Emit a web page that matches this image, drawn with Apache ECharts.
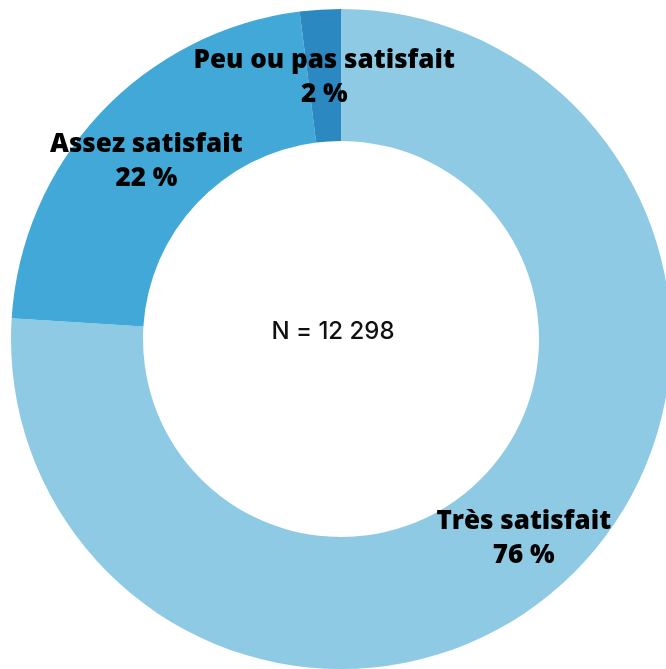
<!DOCTYPE html>
<html>
<head>
<meta charset="utf-8">
<script src="https://cdn.jsdelivr.net/npm/echarts@6/dist/echarts.min.js"></script>
<style>
  html, body { margin: 0; padding: 0; background: #fff; }
  #chart { width: 666px; height: 669px; }
</style>
</head>
<body>
<div id="chart"></div>
<script>
  // satisfaction categories and shares (%)
  const categories = ['Très satisfait', 'Assez satisfait', 'Peu ou pas satisfait']
  const values = [76, 22, 2]
  const total = 'N = 12 298'

  const chart = echarts.init(document.getElementById('chart'))
  chart.setOption({
    color: ['#8ecae4', '#42a8d8', '#2b88c0'],
    animation: false,
    graphic: [{
      type: 'text',
      left: 'center',
      top: 320,
      style: {
        text: total,
        font: '500 24px Inter, sans-serif',
        fill: '#111'
      }
    }],
    series: [{
      type: 'pie',
      center: [341, 339],
      radius: [198, 330],
      startAngle: 90,
      clockwise: true,
      label: {
        position: 'inside',
        formatter: '{b}\n{c} %',
        color: '#000',
        fontFamily: 'Open Sans',
        fontWeight: 800,
        fontSize: 26,
        lineHeight: 34,
        offset: [0, 5]
      },
      labelLine: { show: false },
      itemStyle: { borderWidth: 0 },
      emphasis: { disabled: true },
      data: categories.map((name, i) => ({ name: name, value: values[i] }))
    }]
  })
</script>
</body>
</html>
